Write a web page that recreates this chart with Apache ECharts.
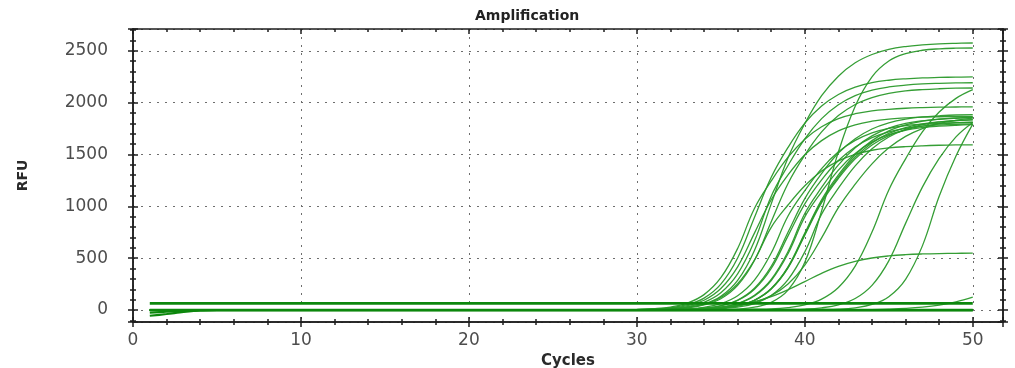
<!DOCTYPE html>
<html>
<head>
<meta charset="utf-8">
<script src="https://cdn.jsdelivr.net/npm/echarts@6/dist/echarts.min.js"></script>
<style>
html,body{margin:0;padding:0;background:#fff;}
#chart{width:1015px;height:368px;}
</style>
</head>
<body>
<div id="chart"></div>
<script>
// Cycle positions shared by the amplification curves (cycle 1, then 30..50)
const cycles = [1,30,31,32,33,34,35,36,37,38,39,40,41,42,43,44,45,46,47,48,49,50];

// RFU values per curve (cycle 1, then cycles 30..50)
const curveE1 = [0, 0,5,11,26,59,132,286,575,1024,1468,1798,2067,2255,2384,2464,2513,2541,2557,2567,2572,2575];
const curveE2 = [0, 4,10,22,52,115,250,502,893,1280,1568,1802,1967,2079,2149,2192,2216,2230,2239,2243,2246,2248];
const curveE3 = [0, 4,7,15,33,75,167,349,665,1098,1394,1651,1846,1980,2068,2120,2151,2169,2180,2186,2190,2192];
const curveE4 = [0, 0,4,9,21,49,109,238,478,852,1221,1495,1718,1875,1982,2048,2089,2113,2126,2134,2139,2141];
const curveE5 = [0, 6,13,29,67,149,312,594,980,1245,1474,1648,1768,1846,1893,1921,1936,1946,1952,1956,1958,1959];
const curveE6 = [0, 3,5,11,24,54,121,254,483,798,1013,1199,1341,1439,1502,1541,1563,1576,1584,1589,1592,1593];
const curveE7 = [0, 4,8,19,43,95,208,417,742,1064,1303,1498,1634,1728,1786,1821,1842,1853,1861,1864,1866,1868];
const curveB1 = [0, 0,2,4,8,19,43,96,210,421,750,1075,1317,1514,1652,1746,1805,1841,1862,1873,1881,1884];
const curveB2 = [0, 0,2,4,6,12,28,63,142,296,564,931,1182,1400,1566,1680,1754,1799,1825,1840,1849,1855];
const curveB3 = [0, 0,1,2,4,8,18,42,94,205,411,732,1049,1285,1476,1611,1703,1760,1795,1815,1826,1834];
const curveB4 = [0, 2,4,5,12,27,62,138,288,550,907,1152,1364,1526,1636,1709,1752,1778,1792,1801,1807,1810];
const curveB5 = [0, 0,2,4,5,12,27,61,136,285,544,898,1140,1350,1510,1619,1691,1734,1759,1773,1782,1788];
const curveB6 = [0, 0,1,2,4,8,18,42,93,202,406,723,1036,1269,1458,1591,1682,1738,1773,1793,1804,1811];
const curveB7 = [0, 0,0,1,2,6,12,28,63,141,294,561,925,1175,1391,1556,1669,1743,1787,1813,1828,1837];
const curveB8 = [0, 0,2,4,8,18,41,92,200,401,715,1024,1255,1442,1573,1663,1719,1753,1773,1784,1791,1795];
const curveB9 = [0, 0,1,2,4,9,19,43,95,208,417,742,1064,1303,1498,1634,1728,1786,1821,1842,1853,1861];
const curveC2 = [0, 0,0,0,0,1,4,10,28,74,192,460,956,1525,1966,2249,2401,2472,2505,2519,2525,2527];
const curveLA = [0, 0,1,2,5,10,20,39,73,139,252,434,696,987,1214,1410,1564,1675,1750,1799,1829,1850];
const curveLB = [0, 0,0,1,2,3,4,6,8,11,24,51,106,218,424,752,1157,1458,1718,1909,2041,2125];
const curveLC = [0, 0,0,0,1,1,2,3,4,5,7,10,22,50,111,238,474,836,1185,1462,1670,1809];
const curveLD = [0, 0,0,0,0,0,1,1,2,2,3,4,6,9,22,54,129,297,619,1097,1485,1793];
const curveLP = [0, 0,2,5,9,16,28,48,81,129,196,275,354,421,469,502,522,534,541,545,547,549];
const curveLS = [0, 0,0,0,0,0,0,0,0,0,0,0,1,2,3,5,9,16,28,48,80,125];

// Early-cycle dips (cycles 1..5, then flat to 50)
const dipCycles = [1,2,3,4,5,50];
const dip1 = [-55,-38,-18,-3,0,0];
const dip2 = [-25,-15,-8,-2,0,0];

// Flat baseline and threshold (cycles 1 and 50)
const flatCycles = [1,50];
const baseline = [0,0];
const threshold = [65,65];

// Axis ranges
const xMin = 0, xMax = 51.8, xStep = 10;
const yMin = -115, yMax = 2710;

const curves = [curveE1,curveE2,curveE3,curveE4,curveE5,curveE6,curveE7,
  curveB1,curveB2,curveB3,curveB4,curveB5,curveB6,curveB7,curveB8,curveB9,
  curveC2,curveLA,curveLB,curveLC,curveLD,curveLP,curveLS];

function zip(xs, ys){ return xs.map((x,i)=>[x, ys[i]]); }

const GREEN = '#2a992a';
const DARK = '#0c870c';
const series = [];
curves.forEach((c, i) => {
  series.push({type:'line', name:'c'+i, data: zip(cycles, c), showSymbol:false, symbol:'none',
    smooth:0.4,
    lineStyle:{color:GREEN, width:1.3, opacity:0.95}, silent:true, z:2});
});
[dip1, dip2].forEach((d,i)=>{
  series.push({type:'line', data: zip(dipCycles, d), symbol:'none', smooth:0.3,
    lineStyle:{color:DARK, width:2.2}, silent:true, z:3});
});
series.push({type:'line', data: zip(flatCycles, baseline), symbol:'none', lineStyle:{color:DARK, width:2.6}, silent:true, z:4});
series.push({type:'line', data: zip(flatCycles, threshold), symbol:'none', lineStyle:{color:DARK, width:2.6}, silent:true, z:4});

const axColor = '#1e1e1e';
const lbl = {color:'#4d4d4d', fontSize:17, fontFamily:'DejaVu Sans', formatter: v => String(v)};
const gridLine = {show:true, lineStyle:{color:'#6e6e6e', width:1, type:[2,6]}};
const tickStyle = {color:axColor, width:1.5};

function xAx(pos, inside, main){
  return {type:'value', position:pos, min:xMin, max:xMax, interval:xStep,
    axisLine:{show:true, onZero:false, lineStyle:{color:axColor, width:1.5}},
    axisTick:{show:true, inside:inside, length:5, lineStyle:tickStyle},
    minorTick:{show:true, splitNumber:5, length:3, lineStyle:tickStyle},
    axisLabel: main ? Object.assign({margin:10, showMaxLabel:false}, lbl) : {show:false},
    splitLine: main ? gridLine : {show:false},
    name: main ? 'Cycles' : '', nameLocation:'middle', nameGap:31,
    nameTextStyle:{fontFamily:'DejaVu Sans', fontWeight:'bold', fontSize:15, color:'#2a2a2a'}
  };
}
function yAx(pos, inside, main){
  return {type:'value', position:pos, min:yMin, max:yMax, splitNumber:5,
    axisLine:{show:true, onZero:false, lineStyle:{color:axColor, width:1.5}},
    axisTick:{show:true, inside:inside, length:5, lineStyle:tickStyle},
    minorTick:{show:true, splitNumber:5, length:3, lineStyle:tickStyle},
    axisLabel: main ? Object.assign({margin:25, showMaxLabel:false, showMinLabel:false}, lbl) : {show:false},
    splitLine: main ? gridLine : {show:false},
    name: main ? 'RFU' : '', nameLocation:'middle', nameGap:103,
    nameTextStyle:{fontFamily:'DejaVu Sans', fontWeight:'bold', fontSize:14, color:'#2a2a2a'}
  };
}

const chart = echarts.init(document.getElementById('chart'), null, {renderer:'canvas'});
chart.setOption({
  animation:false,
  backgroundColor:'#ffffff',
  title:{text:'Amplification', left:470, top:4,
    textStyle:{fontFamily:'DejaVu Sans', fontWeight:'bold', fontSize:14, color:'#222'}},
  grid:{left:133, right:12, top:29, bottom:46, outerBoundsMode:'none'},
  xAxis:[xAx('bottom', false, true), xAx('bottom', true, false), xAx('top', true, false)],
  yAxis:[yAx('left', false, true), yAx('left', true, false), yAx('right', false, false), yAx('right', true, false)],
  series: series
});
</script>
</body>
</html>
